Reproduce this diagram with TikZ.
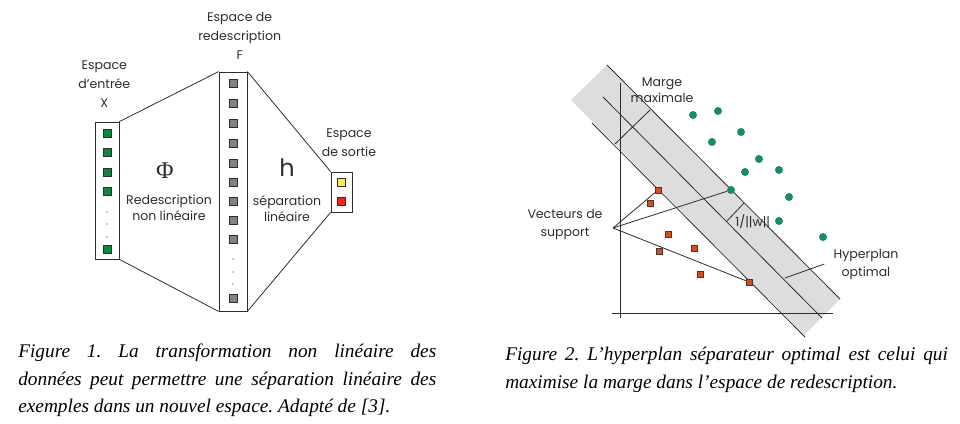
\documentclass[tikz,border=0pt]{standalone}
\usepackage{fontspec}
\setmainfont{Liberation Serif}
\newfontfamily\diagfont{Poppins}
\usepackage{xcolor}
\usetikzlibrary{positioning}
\definecolor{ink}{RGB}{45,45,45}
\definecolor{ingreen}{RGB}{20,130,65}
\definecolor{dotgreen}{RGB}{25,140,100}
\definecolor{sqred}{RGB}{215,75,35}
\definecolor{sqgray}{RGB}{130,130,130}
\definecolor{outyellow}{RGB}{250,240,70}
\definecolor{outred}{RGB}{230,40,40}
\definecolor{bandgray}{RGB}{221,221,221}
\frenchspacing

\begin{document}
\begin{tikzpicture}[x=0.75pt,y=-0.75pt,every node/.style={font=\diagfont\fontsize{9.4}{14.5}\selectfont,text=ink,align=center,inner sep=0pt},box/.style={draw=ink,line width=0.6pt},sq/.style={draw=ink,line width=0.4pt,minimum size=6pt},dot/.style={circle,fill=dotgreen,minimum size=6pt},rsq/.style={draw=ink!80!sqred,fill=sqred,line width=0.4pt,minimum size=4.5pt},link/.style={draw=ink,line width=0.6pt},captext/.style={font=\itshape\fontsize{14.5}{20.5}\selectfont,text=black,align=justify}]
\useasboundingbox (0,0) rectangle (960,424);
% figure 1
\node[box,minimum width=18pt,minimum height=102.75pt] (X) at (107,190.5) {};
\node[box,minimum width=21pt,minimum height=179.25pt] (F) at (233,191.5) {};
\node[box,minimum width=15.75pt,minimum height=30pt] (S) at (341.5,192) {};
\foreach \y [count=\i] in {133,152,172,191,249} \node[sq,fill=ingreen] (x\i) at (107,\y) {};
\foreach \y [count=\i] in {83,103,123,143,163,182,201,220,239,298} \node[sq,fill=sqgray] (f\i) at (233,\y) {};
\foreach \y in {212,224,237} \fill[ink] (107,\y) circle (0.45pt);
\foreach \y in {259,272,284} \fill[ink] (233,\y) circle (0.45pt);
\node[sq,fill=outyellow] (s1) at (341.5,182) {};
\node[sq,fill=outred] (s2) at (341.5,201) {};
\draw[link] (X.north east) -- (F.north west);
\draw[link] (X.south east) -- (F.south west);
\draw[link] (F.north east) -- (S.north west);
\draw[link] (F.south east) -- (S.south west);
\node[above=10pt of X,xshift=-2pt] (lx) {Espace\\d’entrée\\X};
\node[above=8.6pt of F,xshift=5pt] (lf) {Espace de\\redescription\\F};
\node[above=10.9pt of S,xshift=5.6pt] (ls) {Espace\\de sortie};
\node[font=\rmfamily\fontsize{18}{18}\selectfont] (phi) at (165,171) {Φ};
\node[font=\diagfont\fontsize{9.4}{12}\selectfont] (redesc) at (169,208) {Redescription\\non linéaire};
\node (h) at (287,168) {\fontsize{18}{18}\selectfont h};
\node[font=\diagfont\fontsize{9.4}{12}\selectfont] (sep) at (287,209) {séparation\\linéaire};
% figure 2
\fill[bandgray] (607,65) -- (840,299) -- (804,335) -- (571,100) -- cycle;
\draw[link] (620,83) -- (620,318);
\draw[link] (612,313) -- (833,313);
\draw[link] (607,65) -- (840,299);
\draw[link] (603,97) -- (822,318);
\draw[link] (592,123) -- (805,337);
\draw[link] (650,110) -- (615,144);
\draw[link] (744,203) -- (727,221);
\foreach \p [count=\i] in {(693,115),(718,111),(712,142),(741,132),(759,159),(745,172),(779,170),(731,190),(789,197),(779,221),(823,237)} \node[dot] (g\i) at \p {};
\foreach \p [count=\i] in {(658,190),(650,203),(668,234),(659,251),(694,248),(700,274),(749,282)} \node[rsq] (r\i) at \p {};
\node (mm) at (662,90) [font=\diagfont\fontsize{9.4}{12}\selectfont] {Marge\\maximale};
\node[anchor=west] (w) at (735,222) {1/||w||};
\node[font=\diagfont\fontsize{9.4}{13.5}\selectfont] (vs) at (565,224) {Vecteurs de\\support};
\coordinate (ap) at (613,228);
\draw[link] (ap) -- (r1);
\draw[link] (ap) -- (g8);
\draw[link] (ap) -- (r7);
\node[font=\diagfont\fontsize{9.4}{13.5}\selectfont] (hyp) at (866,264) {Hyperplan\\optimal};
\coordinate (hp) at (785,278);
\draw[link] ([xshift=-6.75pt]hyp.west) -- (hp);
% captions
\node[captext,text width=313.5pt,anchor=north west] (c1) at (18,344) {Figure 1. La transformation non linéaire des\linebreak données peut permettre une séparation linéaire des\linebreak exemples dans un nouvel espace. Adapté de [3].};
\node[captext,text width=332pt,anchor=north west] (c2) at (505,347) {Figure 2. L’hyperplan séparateur optimal est celui qui\linebreak maximise la marge dans l’espace de redescription.};
\end{tikzpicture}
\end{document}
